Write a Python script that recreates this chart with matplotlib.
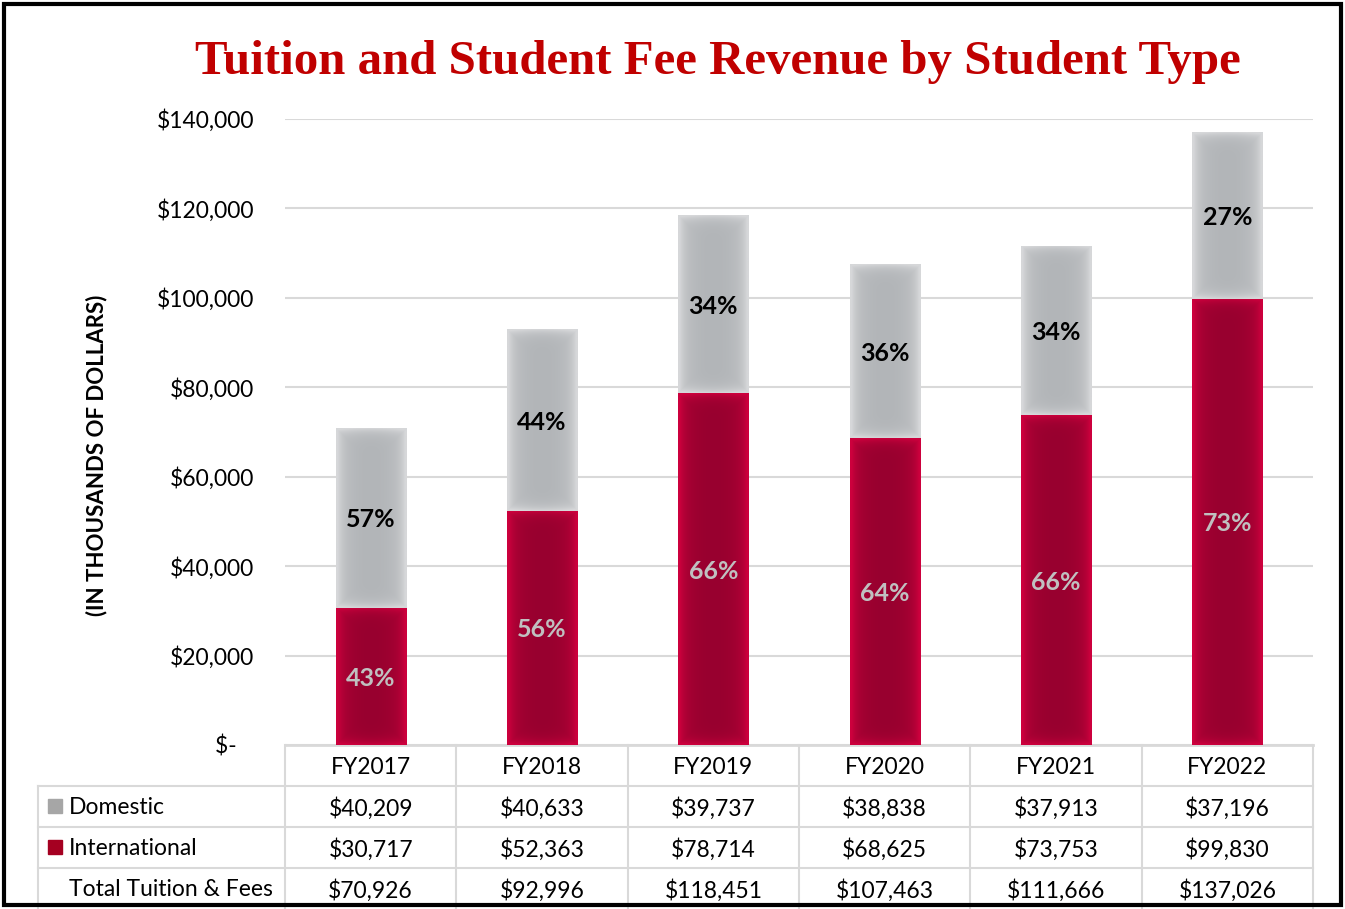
import numpy as np
import matplotlib.pyplot as plt
from matplotlib.patches import Rectangle
from matplotlib.lines import Line2D
from matplotlib.ticker import FuncFormatter

# datos
years = ['FY2017', 'FY2018', 'FY2019', 'FY2020', 'FY2021', 'FY2022']
domestic = [40209, 40633, 39737, 38838, 37913, 37196]
international = [30717, 52363, 78714, 68625, 73753, 99830]
totals = [70926, 92996, 118451, 107463, 111666, 137026]
dom_pct = ['57%', '44%', '34%', '36%', '34%', '27%']
int_pct = ['43%', '56%', '66%', '64%', '66%', '73%']

RED_C, RED_E = np.array([0x98, 0x00, 0x2f]) / 255, np.array([0xcc, 0x00, 0x3d]) / 255
GRAY_C, GRAY_E = np.array([0xb2, 0xb5, 0xb8]) / 255, np.array([0xd6, 0xd7, 0xd9]) / 255
GRID = '#d9d9d9'
FONT = 'Lato'
FS = 16.5

plt.rcParams['font.family'] = [FONT, 'DejaVu Sans']

fig = plt.figure(figsize=(13.45, 9.09), dpi=100)
W, H = 1345, 909
ax = fig.add_axes([285 / W, 1 - 745 / H, (1313 - 285) / W, (745 - 119) / H])

x = np.arange(len(years))
bw = 0.41
bars_i = ax.bar(x, international, bw, color='none', zorder=3)
bars_d = ax.bar(x, domestic, bw, bottom=international, color='none', zorder=3)

ax.set_xlim(-0.5, len(years) - 0.5)
ax.set_ylim(0, 140000)
ax.set_yticks(np.arange(0, 140001, 20000))
ax.yaxis.set_major_formatter(FuncFormatter(lambda v, p: '$-   ' if v == 0 else f'${v:,.0f}'))
ax.tick_params(axis='y', length=0, pad=22, labelsize=FS)
ax.set_xticks([])
ax.grid(axis='y', color=GRID, linewidth=1.5, zorder=0)
for s in ['top', 'right', 'left']:
    ax.spines[s].set_visible(False)
ax.spines['bottom'].set_color(GRID)
ax.spines['bottom'].set_linewidth(2)

fig.canvas.draw()


def gradient_fill(patch, c_center, c_edge):
    bb = patch.get_window_extent()
    w, h = max(int(bb.width), 2), max(int(bb.height), 2)
    xx = np.arange(w) + 0.5
    yy = np.arange(h) + 0.5
    dx = np.minimum(xx, w - xx)
    dy = np.minimum(yy, h - yy)
    d = np.minimum(dx[None, :], dy[:, None])
    # lado más claro en los bordes y centro un poco más oscuro
    wgt = np.exp(-d / 5.0)[..., None]
    side = (np.abs(xx - w / 2) / (w / 2))[None, :, None] ** 2
    img = c_center + (c_edge - c_center) * np.clip(wgt + 0.35 * side, 0, 1)
    x0, y0 = patch.get_x(), patch.get_y()
    im = ax.imshow(img, extent=[x0, x0 + patch.get_width(), y0, y0 + patch.get_height()],
                   aspect='auto', interpolation='bilinear', zorder=3, origin='lower')
    im.set_clip_path(patch)


for p in bars_i:
    gradient_fill(p, RED_C, RED_E)
for p in bars_d:
    gradient_fill(p, GRAY_C, GRAY_E)

# etiquetas de porcentaje
for i in range(len(years)):
    ax.text(x[i], international[i] / 2, int_pct[i], ha='center', va='center_baseline',
            fontsize=18, fontweight='bold', color='#c0c0c0', zorder=5)
    ax.text(x[i], international[i] + domestic[i] / 2, dom_pct[i], ha='center', va='center_baseline',
            fontsize=18, fontweight='bold', color='black', zorder=5)

ax.set_ylabel('(IN THOUSANDS OF DOLLARS)', fontsize=16, fontweight='bold')
ax.yaxis.set_label_coords((107 - 285) / (1313 - 285), (745 - 455) / 626)

# tabla de datos debajo del gráfico
rh = 41 / 626
left_lbl = (38 - 285) / (1313 - 285) * len(years) - 0.5
trans = ax.get_xaxis_transform()
kw = dict(transform=trans, clip_on=False, color=GRID, linewidth=1.5, zorder=1)
for k in range(len(years) + 1):
    ax.add_line(Line2D([k - 0.5, k - 0.5], [0, -4 * rh], **kw))
ax.add_line(Line2D([left_lbl, left_lbl], [-rh, -4 * rh], **kw))
for r in range(1, 4):
    ax.add_line(Line2D([left_lbl, len(years) - 0.5], [-r * rh, -r * rh], **kw))

for i, yr in enumerate(years):
    tk = dict(transform=trans, ha='center', va='center_baseline', fontsize=FS)
    ax.text(x[i], -0.5 * rh, yr, **tk)
    ax.text(x[i], -1.5 * rh, f'${domestic[i]:,}', **tk)
    ax.text(x[i], -2.5 * rh, f'${international[i]:,}', **tk)
    ax.text(x[i], -3.5 * rh, f'${totals[i]:,}', **tk)

row_names = ['Domestic', 'International', 'Total Tuition & Fees']
row_colors = ['#a6a6a6', '#a50021', None]
for r, (name, col) in enumerate(zip(row_names, row_colors)):
    yc = 1 - (785 + 41 * r + 20.5) / H
    if col:
        fig.patches.append(Rectangle((48 / W, yc - 7 / H), 14 / W, 14 / H,
                                     transform=fig.transFigure, color=col))
    fig.text(69 / W, yc, name, ha='left', va='center_baseline', fontsize=FS)

fig.text(718 / W, 1 - 62 / H, 'Tuition and Student Fee Revenue by Student Type',
         ha='center', va='center', fontsize=35.2, fontweight='bold', color='#c00000',
         family='Liberation Serif')

# borde negro de la figura
fig.patches.append(Rectangle((4 / W, 4 / H), 1 - 8 / W, 1 - 8 / H, transform=fig.transFigure,
                             fill=False, edgecolor='black', linewidth=3))

fig.savefig('out.png', dpi=100)
